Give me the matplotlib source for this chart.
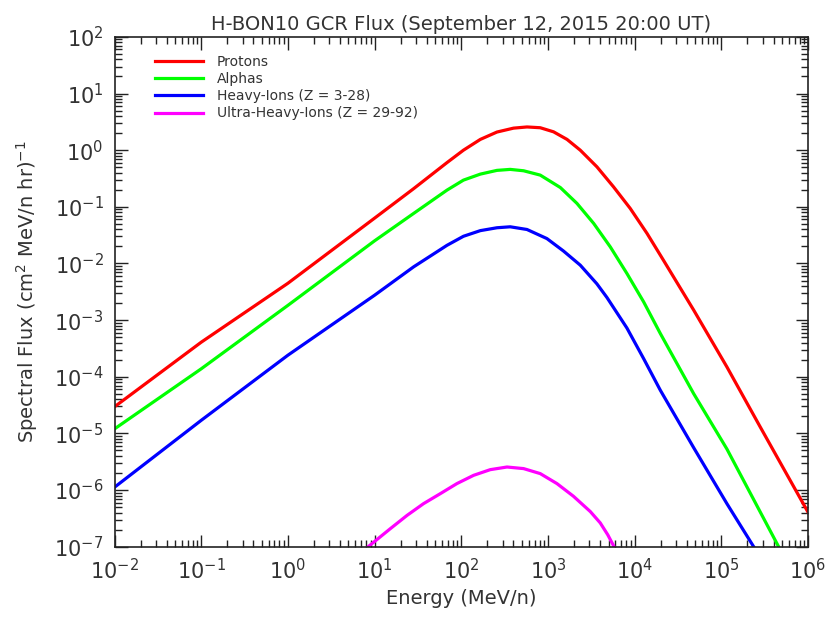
import numpy as np
import matplotlib
matplotlib.use('Agg')
import matplotlib.pyplot as plt
from matplotlib.ticker import LogLocator, NullFormatter

plt.rcParams['font.family'] = ['DejaVu Sans']

# values (energy in MeV/n, flux in (cm2 MeV/n hr)^-1)
proton_e = [0.01, 0.1, 1, 10, 28.2, 68.4, 106, 166, 258, 401, 573, 815, 1160, 1660,
            2360, 3670, 5710, 8890, 13900, 21500, 33500, 47900, 116000, 281000, 1000000]
proton_f = [2.95e-5, 4.07e-4, 4.47e-3, 6.31e-2, 0.209, 0.603, 1.00, 1.55, 2.09, 2.45,
            2.57, 2.49, 2.11, 1.55, 1.00, 0.509, 0.225, 9.38e-2, 3.39e-2, 1.14e-2,
            3.72e-3, 1.51e-3, 1.49e-4, 1.30e-5, 4.07e-7]

alpha_e = [0.01, 0.1, 1, 10, 28.2, 68.4, 106, 166, 258, 367, 524, 815, 1390, 2160,
           3370, 5240, 8150, 12700, 19800, 47900, 116000, 458000]
alpha_f = [1.20e-5, 1.38e-4, 1.82e-3, 2.51e-2, 7.64e-2, 0.197, 0.296, 0.378, 0.440,
           0.458, 0.433, 0.363, 0.219, 0.115, 5.09e-2, 1.96e-2, 6.65e-3, 2.10e-3,
           5.79e-4, 5.05e-5, 5.3e-6, 1.0e-7]

heavy_e = [0.01, 0.1, 1, 10, 28.2, 68.4, 106, 166, 258, 367, 573, 973, 1510, 2360,
           3670, 4790, 8150, 12700, 19800, 47900, 116000, 236000]
heavy_f = [1.12e-6, 1.70e-5, 2.40e-4, 2.75e-3, 8.71e-3, 2.09e-2, 3.02e-2, 3.80e-2,
           4.27e-2, 4.44e-2, 3.98e-2, 2.75e-2, 1.66e-2, 9.33e-3, 4.37e-3, 2.51e-3,
           7.24e-4, 2.09e-4, 5.77e-5, 5.62e-6, 5.75e-7, 1.0e-7]

uheavy_e = [8.30, 15.2, 23.7, 36.7, 57.3, 89.1, 139, 216, 337, 524, 815, 1270, 1970,
            3080, 4010, 4900, 6030]
uheavy_f = [9.8e-8, 2.08e-7, 3.57e-7, 5.75e-7, 8.63e-7, 1.30e-6, 1.82e-6, 2.29e-6,
            2.55e-6, 2.39e-6, 1.95e-6, 1.30e-6, 7.76e-7, 4.17e-7, 2.63e-7, 1.62e-7, 8.9e-8]

labels = ['Protons', 'Alphas', 'Heavy-Ions (Z = 3-28)', 'Ultra-Heavy-Ions (Z = 29-92)']
colors = ['#ff0000', '#00ff00', '#0000ff', '#ff00ff']

fig = plt.figure(figsize=(8.25, 6.18), dpi=100)
ax = fig.add_axes([0.1388, 0.1154, 0.8406, 0.8249])

series = [(proton_e, proton_f), (alpha_e, alpha_f), (heavy_e, heavy_f), (uheavy_e, uheavy_f)]
for (e, f), lab, c in zip(series, labels, colors):
    ax.plot(e, f, color=c, lw=2.3, label=lab, solid_joinstyle='round')

ax.set_xscale('log')
ax.set_yscale('log')
ax.set_xlim(1e-2, 1e6)
ax.set_ylim(1e-7, 1e2)

ax.xaxis.set_major_locator(LogLocator(base=10, numticks=20))
ax.yaxis.set_major_locator(LogLocator(base=10, numticks=20))
ax.xaxis.set_minor_locator(LogLocator(base=10, subs=np.arange(2, 10), numticks=100))
ax.yaxis.set_minor_locator(LogLocator(base=10, subs=np.arange(2, 10), numticks=100))
ax.xaxis.set_minor_formatter(NullFormatter())
ax.yaxis.set_minor_formatter(NullFormatter())

ax.tick_params(which='both', direction='in', top=True, right=True, width=1, color='#222222')
ax.tick_params(which='major', length=9, labelsize=15, pad=8, labelcolor='#333333')
ax.tick_params(which='minor', length=5)
for s in ax.spines.values():
    s.set_linewidth(1.2)
    s.set_color('#222222')

ax.set_title('H-BON10 GCR Flux (September 12, 2015 20:00 UT)', fontsize=14, color='#333333', pad=5)
ax.set_xlabel('Energy (MeV/n)', fontsize=14, color='#333333', labelpad=4)
ax.set_ylabel('Spectral Flux (cm$^2$ MeV/n hr)$^{-1}$', fontsize=14, color='#333333', labelpad=10)

leg = ax.legend(loc='upper left', bbox_to_anchor=(0.05, 0.975), frameon=False, fontsize=10,
                handlelength=3.45, handletextpad=1.0, labelspacing=0.22, borderaxespad=0)
for t in leg.get_texts():
    t.set_color('#333333')

fig.savefig('out.png', dpi=100)
